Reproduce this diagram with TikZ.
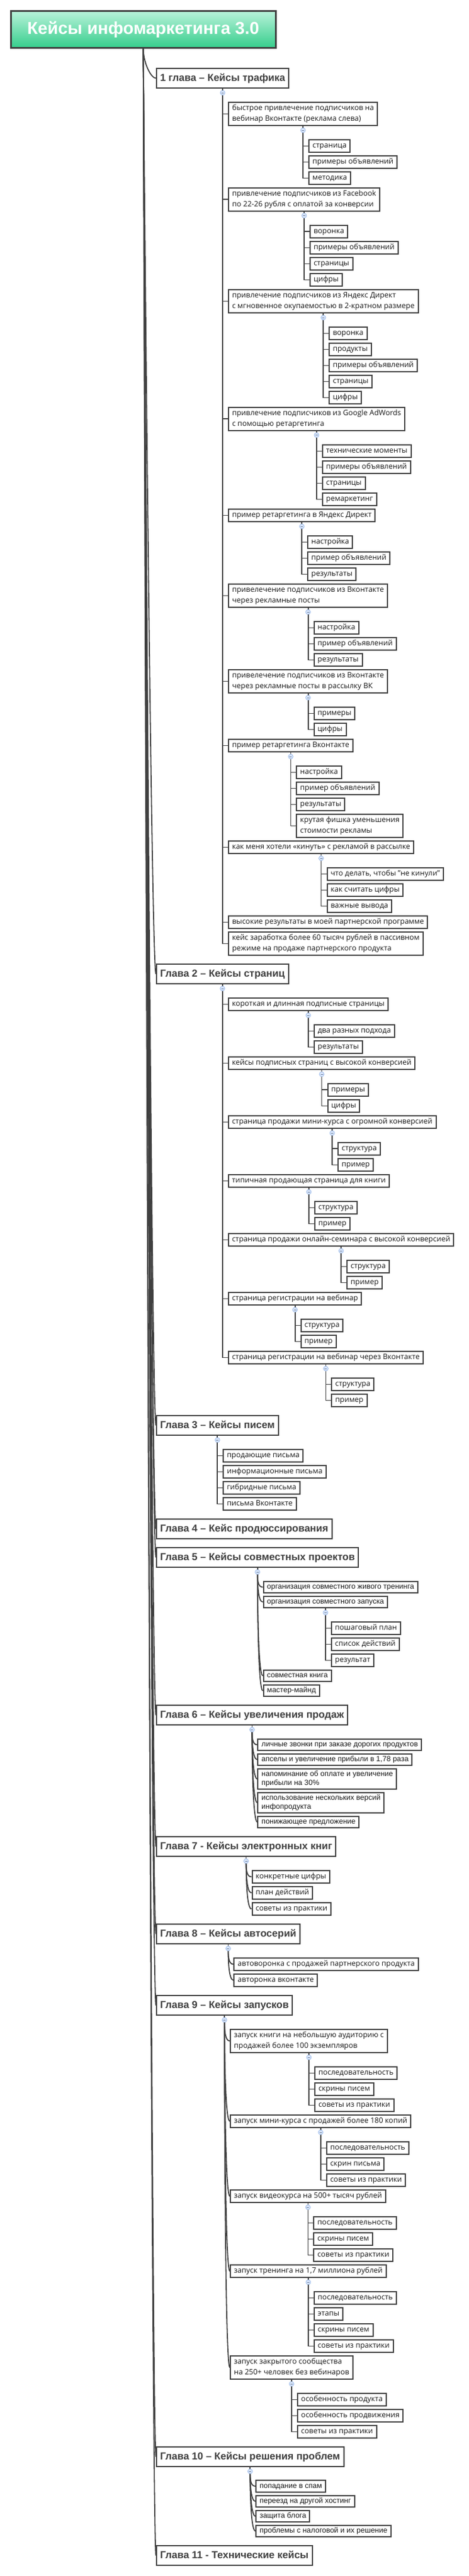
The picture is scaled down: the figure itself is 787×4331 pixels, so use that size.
\documentclass[tikz,border=0pt]{standalone}
\usepackage{fontspec}
\setmainfont{Open Sans}
\newfontfamily\headfont{Liberation Sans}
\usetikzlibrary{calc}

\definecolor{boxgray}{HTML}{404040}
\definecolor{mintTop}{HTML}{B9F2DA}
\definecolor{mintBot}{HTML}{36CE8C}
\definecolor{foldfill}{HTML}{DAE6FB}
\definecolor{folddraw}{HTML}{9CBBEA}

% elbow branches and curved branches from a parent to its children
\newcommand{\branch}[2]{%
  \draw[conn] (#1.south) -- ([yshift=-7pt]#1.south);
  \foreach \k in {#2} {\draw[conn] ([yshift=-7pt]#1.south) |- (\k.west);}
  \node[fold] at ([yshift=-7pt]#1.south) {};}
\newcommand{\cbranch}[2]{%
  \draw[conn] (#1.south) -- ([yshift=-7pt]#1.south);
  \foreach \k in {#2} {\draw[conn] ([yshift=-7pt]#1.south) .. controls +(0,12) and +(-9,0) .. (\k.west);}
  \node[fold] at ([yshift=-7pt]#1.south) {};}

\begin{document}
\begin{tikzpicture}[x=1pt,y=-1pt,
  conn/.style={draw=boxgray, line width=1.8pt},
  box/.style={draw=boxgray, line width=2pt, fill=white, anchor=west, inner xsep=6pt, inner ysep=0pt, text=black!90},
  leaf/.style={box, font=\fontsize{12.5}{18}\selectfont, text height=9pt, text depth=3pt, minimum height=21pt},
  leaftwo/.style={box, font=\fontsize{12.5}{18}\selectfont, align=left, minimum height=39pt},
  aleaf/.style={box, font=\headfont\fontsize{12.5}{15}\selectfont, text height=9pt, text depth=3pt, minimum height=19.5pt},
  aleaftwo/.style={box, font=\headfont\fontsize{12.5}{15}\selectfont, align=left, minimum height=34pt},
  chap/.style={box, font=\headfont\bfseries\fontsize{17}{20}\selectfont, text=boxgray, text height=12.5pt, text depth=3.5pt, minimum height=33pt},
  title/.style={draw=boxgray, line width=2.5pt, top color=mintTop, bottom color=mintBot, text=white,
    font=\headfont\bfseries\fontsize{29}{34}\selectfont, minimum width=445pt, minimum height=62pt, anchor=north west},
  fold/.style={circle, minimum size=8pt, inner sep=0pt, fill=foldfill, draw=folddraw, line width=0.8pt,
    path picture={\draw[folddraw!70!black, line width=0.8pt] ([xshift=-2pt]path picture bounding box.center) -- ([xshift=2pt]path picture bounding box.center);}}
]
\useasboundingbox (0,0) rectangle (787,4331);

% Title
\node[title] (root) at (17,17) {Кейсы инфомаркетинга 3.0};

% Chapter 1
\node[chap] (c1) at (262,131.5) {1 глава – Кейсы трафика};

\node[leaftwo, xshift=9pt] (c1a) at (c1.south |- 0,191.5) {быстрое привлечение подписчиков на\\вебинар Вконтакте (реклама слева)};
\node[leaf, xshift=9pt] (c1a1) at (c1a.south |- 0,245.5) {страница};
\node[leaf, xshift=9pt] (c1a2) at (c1a.south |- 0,272.5) {примеры объявлений};
\node[leaf, xshift=9pt] (c1a3) at (c1a.south |- 0,299.5) {методика};
\branch{c1a}{c1a1,c1a2,c1a3}

\node[leaftwo, xshift=9pt] (c1b) at (c1.south |- 0,335) {привлечение подписчиков из Facebook\\по 22-26 рубля с оплатой за конверсии};
\node[leaf, xshift=9pt] (c1b1) at (c1b.south |- 0,389) {воронка};
\node[leaf, xshift=9pt] (c1b2) at (c1b.south |- 0,416.5) {примеры объявлений};
\node[leaf, xshift=9pt] (c1b3) at (c1b.south |- 0,443.5) {страницы};
\node[leaf, xshift=9pt] (c1b4) at (c1b.south |- 0,470.5) {цифры};
\branch{c1b}{c1b1,c1b2,c1b3,c1b4}

\node[leaftwo, xshift=9pt] (c1c) at (c1.south |- 0,506.5) {привлечение подписчиков из Яндекс Директ\\с мгновенное окупаемостью в 2-кратном размере};
\node[leaf, xshift=9pt] (c1c1) at (c1c.south |- 0,560.5) {воронка};
\node[leaf, xshift=9pt] (c1c2) at (c1c.south |- 0,587.5) {продукты};
\node[leaf, xshift=9pt] (c1c3) at (c1c.south |- 0,614.5) {примеры объявлений};
\node[leaf, xshift=9pt] (c1c4) at (c1c.south |- 0,641.5) {страницы};
\node[leaf, xshift=9pt] (c1c5) at (c1c.south |- 0,668.5) {цифры};
\branch{c1c}{c1c1,c1c2,c1c3,c1c4,c1c5}

\node[leaftwo, xshift=9pt] (c1d) at (c1.south |- 0,704) {привлечение подписчиков из Google AdWords\\с помощью ретаргетинга};
\node[leaf, xshift=9pt] (c1d1) at (c1d.south |- 0,758.5) {технические моменты};
\node[leaf, xshift=9pt] (c1d2) at (c1d.south |- 0,785.5) {примеры объявлений};
\node[leaf, xshift=9pt] (c1d3) at (c1d.south |- 0,812.5) {страницы};
\node[leaf, xshift=9pt] (c1d4) at (c1d.south |- 0,839.5) {ремаркетинг};
\branch{c1d}{c1d1,c1d2,c1d3,c1d4}

\node[leaf, xshift=9pt] (c1e) at (c1.south |- 0,866.5) {пример ретаргетинга в Яндекс Директ};
\node[leaf, xshift=9pt] (c1e1) at (c1e.south |- 0,911.5) {настройка};
\node[leaf, xshift=9pt] (c1e2) at (c1e.south |- 0,938.5) {пример объявлений};
\node[leaf, xshift=9pt] (c1e3) at (c1e.south |- 0,965.5) {результаты};
\branch{c1e}{c1e1,c1e2,c1e3}

\node[leaftwo, xshift=9pt] (c1f) at (c1.south |- 0,1001.5) {привелечение подписчиков из Вконтакте\\через рекламные посты};
\node[leaf, xshift=9pt] (c1f1) at (c1f.south |- 0,1055.5) {настройка};
\node[leaf, xshift=9pt] (c1f2) at (c1f.south |- 0,1082.5) {пример объявлений};
\node[leaf, xshift=9pt] (c1f3) at (c1f.south |- 0,1109.5) {результаты};
\branch{c1f}{c1f1,c1f2,c1f3}

\node[leaftwo, xshift=9pt] (c1g) at (c1.south |- 0,1145.5) {привелечение подписчиков из Вконтакте\\через рекламные посты в рассылку ВК};
\node[leaf, xshift=9pt] (c1g1) at (c1g.south |- 0,1199.5) {примеры};
\node[leaf, xshift=9pt] (c1g2) at (c1g.south |- 0,1226.5) {цифры};
\branch{c1g}{c1g1,c1g2}

\node[leaf, xshift=9pt] (c1h) at (c1.south |- 0,1253.5) {пример ретаргетинга Вконтакте};
\node[leaf, xshift=9pt] (c1h1) at (c1h.south |- 0,1298.5) {настройка};
\node[leaf, xshift=9pt] (c1h2) at (c1h.south |- 0,1325.5) {пример объявлений};
\node[leaf, xshift=9pt] (c1h3) at (c1h.south |- 0,1352.5) {результаты};
\node[leaftwo, xshift=9pt] (c1h4) at (c1h.south |- 0,1388.5) {крутая фишка уменьшения\\стоимости рекламы};
\branch{c1h}{c1h1,c1h2,c1h3,c1h4}

\node[leaf, xshift=9pt] (c1i) at (c1.south |- 0,1424.5) {как меня хотели «кинуть» с рекламой в рассылке};
\node[leaf, xshift=9pt] (c1i1) at (c1i.south |- 0,1469.5) {что делать, чтобы "не кинули"};
\node[leaf, xshift=9pt] (c1i2) at (c1i.south |- 0,1496.5) {как считать цифры};
\node[leaf, xshift=9pt] (c1i3) at (c1i.south |- 0,1523.5) {важные вывода};
\branch{c1i}{c1i1,c1i2,c1i3}

\node[leaf, xshift=9pt] (c1j) at (c1.south |- 0,1550.5) {высокие результаты в моей партнерской программе};
\node[leaftwo, xshift=9pt] (c1k) at (c1.south |- 0,1586.5) {кейс заработка более 60 тысяч рублей в пассивном\\режиме на продаже партнерского продукта};
\branch{c1}{c1a,c1b,c1c,c1d,c1e,c1f,c1g,c1h,c1i,c1j,c1k}

% Chapter 2
\node[chap] (c2) at (262,1637.5) {Глава 2 – Кейсы страниц};

\node[leaf, xshift=9pt] (c2a) at (c2.south |- 0,1688.5) {короткая и длинная подписные страницы};
\node[leaf, xshift=9pt] (c2a1) at (c2a.south |- 0,1733.5) {два разных подхода};
\node[leaf, xshift=9pt] (c2a2) at (c2a.south |- 0,1760.5) {результаты};
\branch{c2a}{c2a1,c2a2}

\node[leaf, xshift=9pt] (c2b) at (c2.south |- 0,1787.5) {кейсы подписных страниц с высокой конверсией};
\node[leaf, xshift=9pt] (c2b1) at (c2b.south |- 0,1832) {примеры};
\node[leaf, xshift=9pt] (c2b2) at (c2b.south |- 0,1859.5) {цифры};
\branch{c2b}{c2b1,c2b2}

\node[leaf, xshift=9pt] (c2c) at (c2.south |- 0,1886.5) {страница продажи мини-курса с огромной конверсией};
\node[leaf, xshift=9pt] (c2c1) at (c2c.south |- 0,1931) {структура};
\node[leaf, xshift=9pt] (c2c2) at (c2c.south |- 0,1958.5) {пример};
\branch{c2c}{c2c1,c2c2}

\node[leaf, xshift=9pt] (c2d) at (c2.south |- 0,1985.5) {типичная продающая страница для книги};
\node[leaf, xshift=9pt] (c2d1) at (c2d.south |- 0,2030.5) {структура};
\node[leaf, xshift=9pt] (c2d2) at (c2d.south |- 0,2057.5) {пример};
\branch{c2d}{c2d1,c2d2}

\node[leaf, xshift=9pt] (c2e) at (c2.south |- 0,2084.5) {страница продажи онлайн-семинара с высокой конверсией};
\node[leaf, xshift=9pt] (c2e1) at (c2e.south |- 0,2129.5) {структура};
\node[leaf, xshift=9pt] (c2e2) at (c2e.south |- 0,2156.5) {пример};
\branch{c2e}{c2e1,c2e2}

\node[leaf, xshift=9pt] (c2f) at (c2.south |- 0,2183.5) {страница регистрации на вебинар};
\node[leaf, xshift=9pt] (c2f1) at (c2f.south |- 0,2228.5) {структура};
\node[leaf, xshift=9pt] (c2f2) at (c2f.south |- 0,2255.5) {пример};
\branch{c2f}{c2f1,c2f2}

\node[leaf, xshift=9pt] (c2g) at (c2.south |- 0,2282.5) {страница регистрации на вебинар через Вконтакте};
\node[leaf, xshift=9pt] (c2g1) at (c2g.south |- 0,2327.5) {структура};
\node[leaf, xshift=9pt] (c2g2) at (c2g.south |- 0,2354.5) {пример};
\branch{c2g}{c2g1,c2g2}
\branch{c2}{c2a,c2b,c2c,c2d,c2e,c2f,c2g}

% Chapter 3
\node[chap] (c3) at (262,2396.5) {Глава 3 – Кейсы писем};
\node[leaf, xshift=9pt] (c3a) at (c3.south |- 0,2447.5) {продающие письма};
\node[leaf, xshift=9pt] (c3b) at (c3.south |- 0,2474.5) {информационные письма};
\node[leaf, xshift=9pt] (c3c) at (c3.south |- 0,2501.5) {гибридные письма};
\node[leaf, xshift=9pt] (c3d) at (c3.south |- 0,2528.5) {письма Вконтакте};
\branch{c3}{c3a,c3b,c3c,c3d}

% Chapter 4
\node[chap] (c4) at (262,2570.5) {Глава 4 – Кейс продюссирования};

% Chapter 5
\node[chap] (c5) at (262,2618.5) {Глава 5 – Кейсы совместных проектов};
\node[aleaf, xshift=9pt] (c5a) at (c5.south |- 0,2668.5) {организация совместного живого тренинга};
\node[aleaf, xshift=9pt] (c5b) at (c5.south |- 0,2693.5) {организация совместного запуска};
\node[leaf, xshift=9pt] (c5b1) at (c5b.south |- 0,2737.5) {пошаговый план};
\node[leaf, xshift=9pt] (c5b2) at (c5b.south |- 0,2764.5) {список действий};
\node[leaf, xshift=9pt] (c5b3) at (c5b.south |- 0,2791.5) {результат};
\branch{c5b}{c5b1,c5b2,c5b3}
\node[aleaf, xshift=9pt] (c5c) at (c5.south |- 0,2817.5) {совместная книга};
\node[aleaf, xshift=9pt] (c5d) at (c5.south |- 0,2842.5) {мастер-майнд};
\cbranch{c5}{c5a,c5b,c5c,c5d}

% Chapter 6
\node[chap] (c6) at (262,2883.5) {Глава 6 – Кейсы увеличения продаж};
\node[aleaf, xshift=9pt] (c6a) at (c6.south |- 0,2933.5) {личные звонки при заказе дорогих продуктов};
\node[aleaf, xshift=9pt] (c6b) at (c6.south |- 0,2958.5) {апселы и увеличение прибыли в 1,78 раза};
\node[aleaftwo, xshift=9pt] (c6c) at (c6.south |- 0,2991) {напоминание об оплате и увеличение\\прибыли на 30\%};
\node[aleaftwo, xshift=9pt] (c6d) at (c6.south |- 0,3031) {использование нескольких версий\\инфопродукта};
\node[aleaf, xshift=9pt] (c6e) at (c6.south |- 0,3063.5) {понижающее предложение};
\cbranch{c6}{c6a,c6b,c6c,c6d,c6e}

% Chapter 7
\node[chap] (c7) at (262,3104.5) {Глава 7 - Кейсы электронных книг};
\node[leaf, xshift=9pt] (c7a) at (c7.south |- 0,3155.5) {конкретные цифры};
\node[leaf, xshift=9pt] (c7b) at (c7.south |- 0,3182.5) {план действий};
\node[leaf, xshift=9pt] (c7c) at (c7.south |- 0,3209.5) {советы из практики};
\cbranch{c7}{c7a,c7b,c7c}

% Chapter 8
\node[chap] (c8) at (262,3251.5) {Глава 8 – Кейсы автосерий};
\node[leaf, xshift=9pt] (c8a) at (c8.south |- 0,3302.5) {автоворонка с продажей партнерского продукта};
\node[leaf, xshift=9pt] (c8b) at (c8.south |- 0,3329.5) {авторонка вконтакте};
\cbranch{c8}{c8a,c8b}

% Chapter 9
\node[chap] (c9) at (262,3371.5) {Глава 9 – Кейсы запусков};

\node[leaftwo, xshift=9pt] (c9a) at (c9.south |- 0,3431.5) {запуск книги на небольшую аудиторию с\\продажей более 100 экземпляров};
\node[leaf, xshift=9pt] (c9a1) at (c9a.south |- 0,3485.5) {последовательность};
\node[leaf, xshift=9pt] (c9a2) at (c9a.south |- 0,3512.5) {скрины писем};
\node[leaf, xshift=9pt] (c9a3) at (c9a.south |- 0,3539.5) {советы из практики};
\branch{c9a}{c9a1,c9a2,c9a3}

\node[leaf, xshift=9pt] (c9b) at (c9.south |- 0,3566.5) {запуск мини-курса с продажей более 180 копий};
\node[leaf, xshift=9pt] (c9b1) at (c9b.south |- 0,3611.5) {последовательность};
\node[leaf, xshift=9pt] (c9b2) at (c9b.south |- 0,3638.5) {скрин письма};
\node[leaf, xshift=9pt] (c9b3) at (c9b.south |- 0,3665.5) {советы из практики};
\branch{c9b}{c9b1,c9b2,c9b3}

\node[leaf, xshift=9pt] (c9c) at (c9.south |- 0,3692.5) {запуск видеокурса на 500+ тысяч рублей};
\node[leaf, xshift=9pt] (c9c1) at (c9c.south |- 0,3737.5) {последовательность};
\node[leaf, xshift=9pt] (c9c2) at (c9c.south |- 0,3764.5) {скрины писем};
\node[leaf, xshift=9pt] (c9c3) at (c9c.south |- 0,3791.5) {советы из практики};
\branch{c9c}{c9c1,c9c2,c9c3}

\node[leaf, xshift=9pt] (c9d) at (c9.south |- 0,3818.5) {запуск тренинга на 1,7 миллиона рублей};
\node[leaf, xshift=9pt] (c9d1) at (c9d.south |- 0,3863.5) {последовательность};
\node[leaf, xshift=9pt] (c9d2) at (c9d.south |- 0,3890.5) {этапы};
\node[leaf, xshift=9pt] (c9d3) at (c9d.south |- 0,3917.5) {скрины писем};
\node[leaf, xshift=9pt] (c9d4) at (c9d.south |- 0,3944.5) {советы из практики};
\branch{c9d}{c9d1,c9d2,c9d3,c9d4}

\node[leaftwo, xshift=9pt] (c9e) at (c9.south |- 0,3980.5) {запуск закрытого сообщества\\на 250+ человек без вебинаров};
\node[leaf, xshift=9pt] (c9e1) at (c9e.south |- 0,4034.5) {особенность продукта};
\node[leaf, xshift=9pt] (c9e2) at (c9e.south |- 0,4061.5) {особенность продвижения};
\node[leaf, xshift=9pt] (c9e3) at (c9e.south |- 0,4088.5) {советы из практики};
\branch{c9e}{c9e1,c9e2,c9e3}
\cbranch{c9}{c9a,c9b,c9c,c9d,c9e}

% Chapter 10
\node[chap] (c10) at (262,4130.5) {Глава 10 – Кейсы решения проблем};
\node[aleaf, xshift=9pt] (c10a) at (c10.south |- 0,4180) {попадание в спам};
\node[aleaf, xshift=9pt] (c10b) at (c10.south |- 0,4205.5) {переезд на другой хостинг};
\node[aleaf, xshift=9pt] (c10c) at (c10.south |- 0,4230.5) {защита блога};
\node[aleaf, xshift=9pt] (c10d) at (c10.south |- 0,4255.5) {проблемы с налоговой и их решение};
\cbranch{c10}{c10a,c10b,c10c,c10d}

% Chapter 11
\node[chap] (c11) at (262,4296.5) {Глава 11 - Технические кейсы};

% Trunk from the title to every chapter
\foreach \n in {1,...,11}
  \draw[conn] (root.south) .. controls +(0,25) and +(-8,0) .. (c\n.west);

\end{tikzpicture}
\end{document}
